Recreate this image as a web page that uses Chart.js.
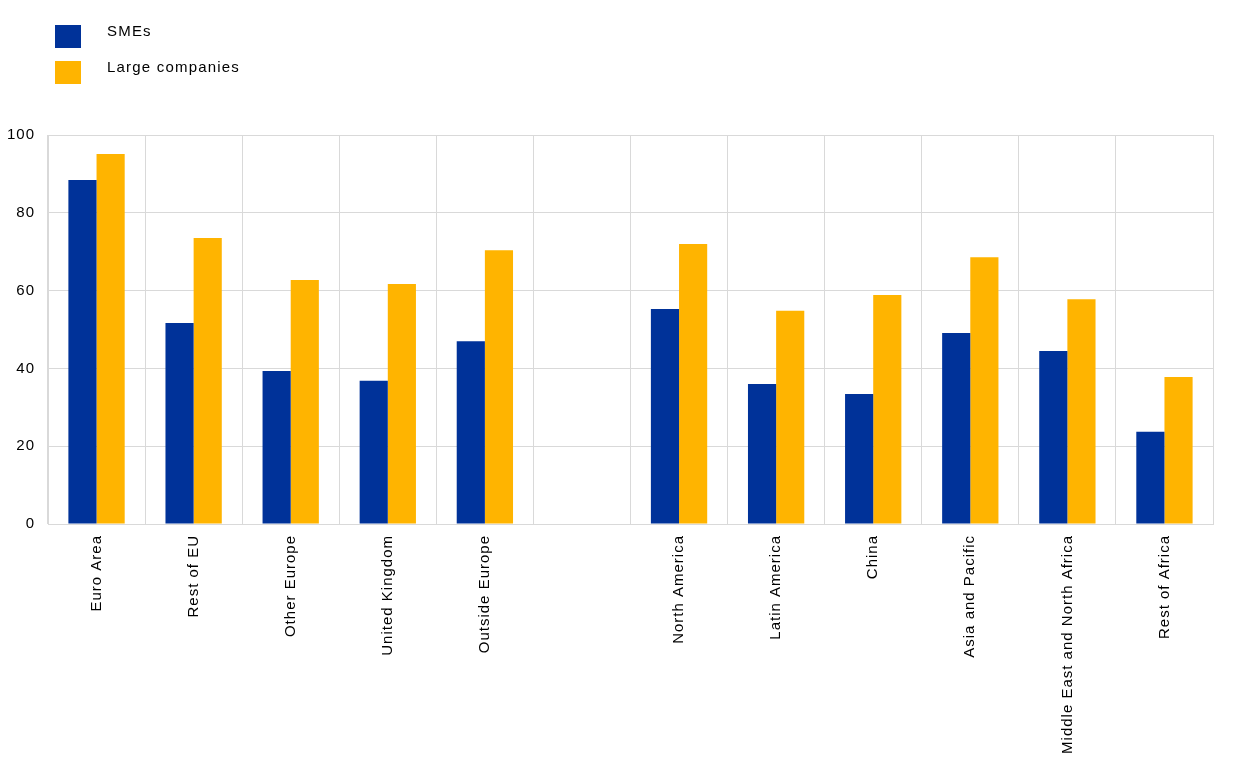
<!DOCTYPE html>
<html>
<head>
<meta charset="utf-8">
<script src="https://cdn.jsdelivr.net/npm/chart.js@4"></script>
<style>
  html, body { margin: 0; padding: 0; background: #fff; }
  #wrap { width: 1240px; height: 763px; }
</style>
</head>
<body>
<div id="wrap"><canvas id="chart"></canvas></div>
<script>
const categories = ['Euro Area', 'Rest of EU', 'Other Europe', 'United Kingdom', 'Outside Europe', '',
    'North America', 'Latin America', 'China', 'Asia and Pacific', 'Middle East and North Africa', 'Rest of Africa'];
const smes = [88.4, 51.7, 39.3, 36.8, 47.0, null, 55.3, 36.0, 33.4, 49.1, 44.5, 23.7];
const largeCompanies = [95.1, 73.5, 62.7, 61.7, 70.4, null, 72.0, 54.8, 58.9, 68.6, 57.8, 37.8];
const yTicks = [0, 20, 40, 60, 80, 100];

const FONT = 'Liberation Sans, Arial, sans-serif';

// the original text is spaced out a little, so widen the letters on the canvas
const spacing = {
    id: 'spacing',
    beforeUpdate(chart) { chart.ctx.letterSpacing = '1px'; },
    beforeLayout(chart) { chart.ctx.letterSpacing = '1px'; },
    beforeDraw(chart) { chart.ctx.letterSpacing = '1px'; }
};

// legend drawn by hand: two rows stacked at the top left
const stackedLegend = {
    id: 'stackedLegend',
    afterDraw(chart) {
        const ctx = chart.ctx;
        ctx.save();
        ctx.font = '15px ' + FONT;
        ctx.letterSpacing = '1.2px';
        ctx.textBaseline = 'middle';
        chart.data.datasets.forEach((ds, i) => {
            const y = 25 + i * 36;
            ctx.fillStyle = ds.backgroundColor;
            ctx.fillRect(55, y, 26, 23);
            ctx.fillStyle = '#000';
            ctx.fillText(ds.label, 107, y + 7);
        });
        ctx.restore();
    }
};

new Chart(document.getElementById('chart'), {
    type: 'bar',
    data: {
        labels: categories,
        datasets: [
            { label: 'SMEs', data: smes, backgroundColor: '#003299' },
            { label: 'Large companies', data: largeCompanies, backgroundColor: '#FFB400' }
        ]
    },
    options: {
        responsive: true,
        maintainAspectRatio: false,
        animation: false,
        layout: { padding: { top: 135, right: 27, left: 0, bottom: 0 } },
        plugins: { legend: { display: false }, tooltip: { enabled: false } },
        datasets: { bar: { categoryPercentage: 0.58, barPercentage: 1 } },
        scales: {
            x: {
                afterFit(axis) { axis.height = 239; },
                grid: { color: '#d9d9d9', offset: true, drawTicks: false },
                border: { color: '#d9d9d9' },
                ticks: {
                    color: '#000', font: { family: FONT, size: 15 },
                    minRotation: 90, maxRotation: 90, autoSkip: false, padding: 11
                }
            },
            y: {
                min: 0, max: 100,
                afterFit(axis) { axis.width = 48; },
                afterBuildTicks(axis) { axis.ticks = yTicks.map(v => ({ value: v })); },
                grid: { color: '#d9d9d9', drawTicks: false },
                border: { color: '#d9d9d9' },
                ticks: { color: '#000', font: { family: FONT, size: 15 }, padding: 13 }
            }
        }
    },
    plugins: [spacing, stackedLegend]
});
</script>
</body>
</html>
